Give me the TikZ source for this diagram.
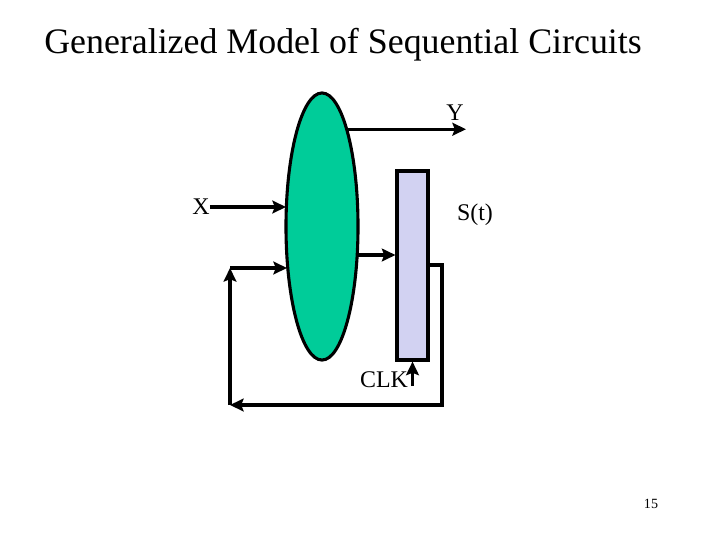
\documentclass[tikz,border=0pt]{standalone}
\usepackage{fontspec}
\setmainfont{Liberation Serif}
\usetikzlibrary{arrows.meta, shapes.geometric}
\definecolor{logicgreen}{HTML}{00CC99}
\definecolor{reglav}{HTML}{D2D2F2}
\tikzset{
  wire/.style={-{Stealth[length=3.4mm, width=3.2mm, inset=0.6mm]}, line width=2.2pt},
  lbl/.style={font=\fontsize{17}{20}\selectfont, inner sep=0pt},
  every node/.append style={text=black}
}
\begin{document}
\begin{tikzpicture}[x=0.025cm, y=-0.025cm]
\useasboundingbox (0,0) rectangle (720,540);
\node[font=\fontsize{25.5}{30}\selectfont] (title) at (343,45) {Generalized Model of Sequential Circuits};

\node[ellipse, draw, line width=2.2pt, fill=logicgreen, minimum width=1.8cm, minimum height=6.675cm, inner sep=0pt] (comb) at (322,226.5) {};
\node[draw, line width=2.2pt, fill=reglav, minimum width=0.775cm, minimum height=4.725cm, inner sep=0pt] (reg) at (412.5,265.5) {};

\node[lbl] (ylbl) at (455,113) {Y};
\node[lbl] (xlbl) at (201,207) {X};
\node[lbl] (slbl) at (475,215) {S(t)};
\node[lbl] (clk) at (384,380) {CLK};
\node[font=\fontsize{10}{12}\selectfont] (page) at (651,504) {15};

\coordinate (yout) at (466,133);
\draw[wire] (comb.75) -- (comb.75 -| yout);
\draw[wire] (xlbl.east) -- (286,207);
\coordinate (tostate) at (357,255);
\draw[wire] (tostate) -- (tostate -| reg.west);

% feedback loop
\coordinate (fbout) at (428,265);
\coordinate (fbturn) at (442,405);
\coordinate (fbleft) at (230,405);
\coordinate (fbup) at (230,268);
\coordinate (fbin) at (287,268);
\draw[wire] (fbout) -| (fbturn) -- (fbleft);
\draw[wire] (fbleft) -- (fbup);
\draw[wire] (fbup) -- (fbin);

\coordinate (clkin) at (412.5,386);
\draw[wire] (clkin) -- (reg.south);
\end{tikzpicture}
\end{document}
